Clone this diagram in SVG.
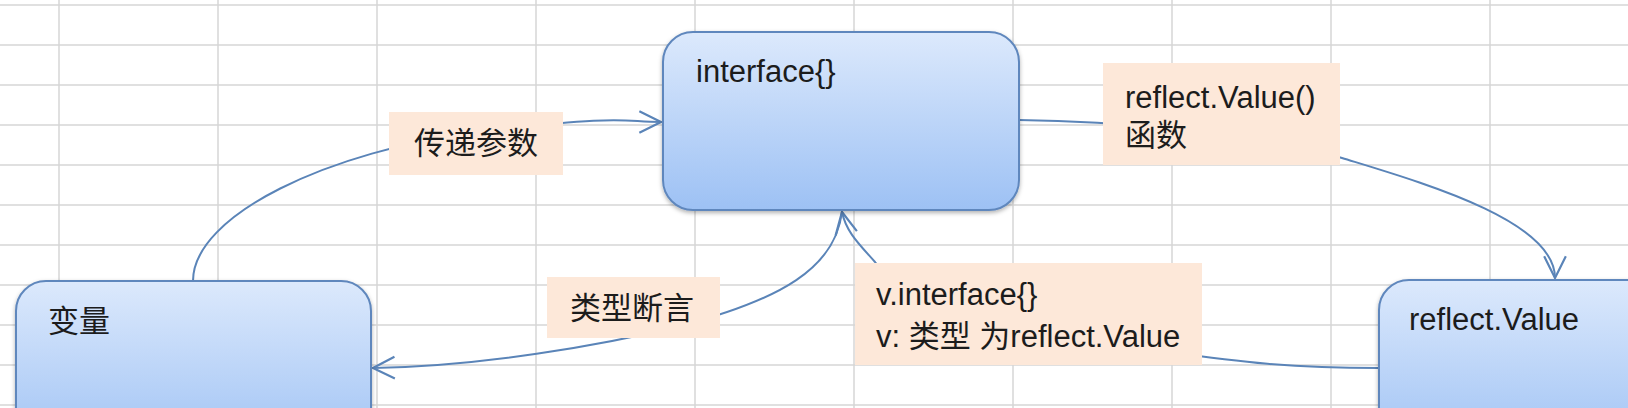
<svg xmlns="http://www.w3.org/2000/svg" width="1628" height="408" viewBox="0 0 1628 408">
<style>
.grid line{stroke:#d6d6d6;stroke-width:1.5}
.node rect{stroke:#5f87bd;stroke-width:2;fill:url(#boxg);filter:url(#sh)}
.lbl{fill:#fde8d9}
.t{font-family:"Liberation Sans","Noto Sans CJK SC",sans-serif;font-size:31px;fill:#1c1c1c}
.conn path{fill:none;stroke:#5a84b8;stroke-width:2}
</style>
<defs>
<linearGradient id="boxg" x1="0" y1="0" x2="0" y2="1">
<stop offset="0" stop-color="#dce9fc"/>
<stop offset="1" stop-color="#9dc1f4"/>
</linearGradient>
<filter id="sh" x="-5%" y="-5%" width="110%" height="115%">
<feDropShadow dx="0" dy="2" stdDeviation="2" flood-color="#000" flood-opacity="0.3"/>
</filter>
<marker id="arr" markerUnits="userSpaceOnUse" markerWidth="26" markerHeight="26" viewBox="0 0 24 24" refX="22" refY="12" orient="auto">
<path d="M2,2 L22,12 L2,22" fill="none" stroke="#5a84b8" stroke-width="2"/>
</marker>
</defs>
<rect width="1628" height="408" fill="#ffffff"/>
<g class="grid">
<line x1="0" y1="5" x2="1628" y2="5"/>
<line x1="0" y1="45" x2="1628" y2="45"/>
<line x1="0" y1="85" x2="1628" y2="85"/>
<line x1="0" y1="125" x2="1628" y2="125"/>
<line x1="0" y1="165" x2="1628" y2="165"/>
<line x1="0" y1="205" x2="1628" y2="205"/>
<line x1="0" y1="245" x2="1628" y2="245"/>
<line x1="0" y1="285" x2="1628" y2="285"/>
<line x1="0" y1="325" x2="1628" y2="325"/>
<line x1="0" y1="365" x2="1628" y2="365"/>
<line x1="0" y1="405" x2="1628" y2="405"/>
<line x1="59" y1="0" x2="59" y2="408"/>
<line x1="218" y1="0" x2="218" y2="408"/>
<line x1="377" y1="0" x2="377" y2="408"/>
<line x1="536" y1="0" x2="536" y2="408"/>
<line x1="695" y1="0" x2="695" y2="408"/>
<line x1="854" y1="0" x2="854" y2="408"/>
<line x1="1013" y1="0" x2="1013" y2="408"/>
<line x1="1172" y1="0" x2="1172" y2="408"/>
<line x1="1331" y1="0" x2="1331" y2="408"/>
<line x1="1490" y1="0" x2="1490" y2="408"/>
</g>
<g class="conn">
<path d="M193,281 C193,215 330,150 480,132 S620,122 661,122" marker-end="url(#arr)"/>
<path d="M1019,120 C1100,121 1250,130 1342,158 C1420,182 1555,220 1555,278" marker-end="url(#arr)"/>
<path d="M842,211 C836,268 780,300 680,326 C600,346 480,366 373,368" marker-end="url(#arr)"/>
<path d="M1379,368 C1290,368 1240,362 1170,352 C1000,328 900,300 875,262 C860,245 846,232 842,212" marker-end="url(#arr)"/>
</g>
<g id="node-var" class="node">
<rect x="16" y="281" width="355" height="178" rx="30"/>
<text class="t" x="48" y="332">变量</text>
</g>
<g id="node-interface" class="node">
<rect x="663" y="32" width="356" height="178" rx="30"/>
<text class="t" x="696" y="82">interface{}</text>
</g>
<g id="node-reflect" class="node">
<rect x="1379" y="280" width="330" height="178" rx="30"/>
<text class="t" x="1409" y="330">reflect.Value</text>
</g>
<g id="label-pass">
<rect class="lbl" x="389" y="112" width="174" height="63"/>
<text class="t" x="414" y="154">传递参数</text>
</g>
<g id="label-func">
<rect class="lbl" x="1103" y="63" width="237" height="102"/>
<text class="t" x="1125" y="108">reflect.Value()</text>
<text class="t" x="1125" y="146">函数</text>
</g>
<g id="label-assert">
<rect class="lbl" x="547" y="277" width="173" height="61"/>
<text class="t" x="570" y="319">类型断言</text>
</g>
<g id="label-vinterface">
<rect class="lbl" x="855" y="263" width="347" height="102"/>
<text class="t" x="876" y="305">v.interface{}</text>
<text class="t" x="876" y="347">v: 类型 为reflect.Value</text>
</g>
</svg>
